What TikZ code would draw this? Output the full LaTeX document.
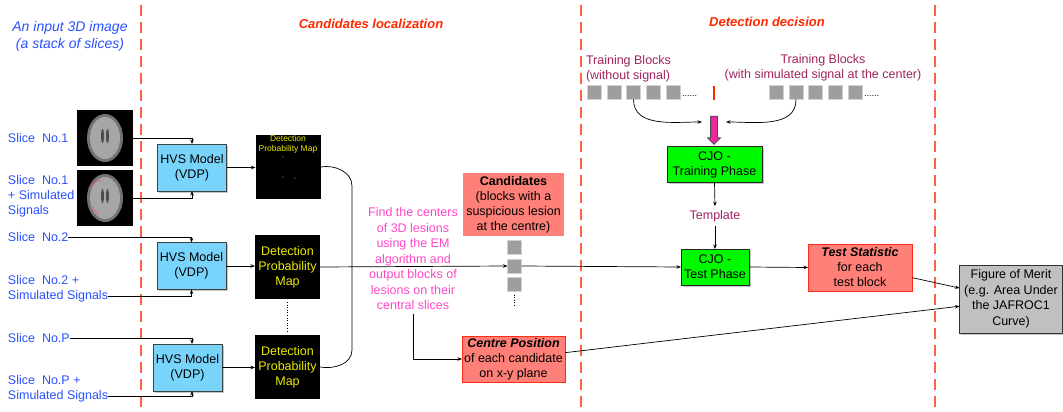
\documentclass[tikz,border=0pt]{standalone}
\usepackage{fontspec}
\setmainfont{Liberation Sans}
\usetikzlibrary{shapes.arrows,shadows,arrows.meta}
\definecolor{slicecol}{RGB}{40,80,255}
\definecolor{titlecol}{RGB}{255,40,0}
\definecolor{dividercol}{RGB}{255,95,70}
\definecolor{hvsfill}{RGB}{120,212,250}
\definecolor{mapyellow}{RGB}{235,235,0}
\definecolor{findpink}{RGB}{255,70,200}
\definecolor{traincol}{RGB}{160,35,95}
\definecolor{salmon}{RGB}{255,128,120}
\definecolor{boxred}{RGB}{255,45,20}
\definecolor{cjogreen}{RGB}{0,250,0}
\definecolor{meritcol}{RGB}{192,192,192}
\newcommand{\texthvs}{HVS Model\\(VDP)}
\newcommand{\textdpm}{Detection\\Probability\\Map}
\newcommand{\textsim}{Simulated Signals}

\begin{document}
\begin{tikzpicture}[x=1pt,y=-1pt,
    >={Stealth[length=4.5pt,width=3.5pt]}, line width=0.7pt,
    font=\fontsize{12.5}{15}\selectfont,
    any/.style={inner sep=0pt,outer sep=0pt,align=center},
    shade/.style={drop shadow={shadow xshift=1.5pt,shadow yshift=-1.5pt,fill=black!45}},
    divider/.style={draw=dividercol,line width=1.6pt,dash pattern=on 11pt off 6pt},
    titletext/.style={any,font=\fontsize{13}{17}\selectfont\bfseries\itshape,text=titlecol},
    slicetext/.style={any,align=left,anchor=west,text=slicecol},
    brain/.style={any,fill=black,minimum size=56pt},
    hvs/.style={any,draw=black!75,line width=1pt,fill=hvsfill,minimum width=69pt,minimum height=47pt,shade},
    dpm/.style={any,fill=black,text=mapyellow,minimum width=65pt,minimum height=64pt},
    blk/.style={any,fill=black!38,draw=black!18,line width=1pt,minimum size=14pt},
    cand/.style={any,fill=salmon},
    box/.style={any,fill=salmon,draw=boxred,line width=0.9pt},
    cjo/.style={any,draw=black!85,line width=1pt,fill=cjogreen,shade},
    traintext/.style={any,text=traincol}
]
\useasboundingbox (0,0) rectangle (1063,412);

\draw[divider] (141,5) -- (141,408);
\draw[divider] (581,5) -- (581,408);
\draw[divider] (935,5) -- (935,408);

\node[any,text=slicecol,font=\fontsize{14}{17}\selectfont\itshape] (input) at (70,36) {An input 3D image\\(a stack of slices)};
\node[titletext] (locate) at (371,24) {Candidates localization};
\node[titletext] (decide) at (767,22) {Detection decision};

% slices
\node[brain] (img1) at (105,138) {};
\node[brain] (img2) at (105,198) {};
\foreach \b in {img1,img2} {
  \fill[black!55] (\b) ellipse (18 and 24);
  \fill[black!35] (\b) ellipse (15 and 21);
  \fill[black!70] ([xshift=-2.5pt,yshift=2pt]\b.center) ellipse (1.5 and 7);
  \fill[black!70] ([xshift=2.5pt,yshift=2pt]\b.center) ellipse (1.5 and 7);
}
\draw[red!70,line width=0.5pt] ([xshift=-14pt,yshift=10pt]img2.center) to[bend left=30] ([xshift=-4pt,yshift=18pt]img2.center);
\draw[red!70,line width=0.5pt] ([xshift=-12pt,yshift=-8pt]img2.center) to[bend right=30] ([xshift=-6pt,yshift=-16pt]img2.center);

\node[slicetext] (s1) at (8,138) {Slice\ \ No.1};
\node[slicetext] (s1p) at (8,196) {Slice\ \ No.1\\+ Simulated\\Signals};
\node[slicetext] (s2) at (8,237) {Slice\ \ No.2};
\node[slicetext] (s2p) at (8,288.5) {Slice\ \ No.2 +\\\textsim};
\node[slicetext] (sP) at (8,338) {Slice\ \ No.P};
\node[slicetext] (sPp) at (8,389) {Slice\ \ No.P +\\\textsim};

\node[hvs] (hvs1) at (192,167.5) {\texthvs};
\node[hvs] (hvs2) at (191.5,266) {\texthvs};
\node[hvs] (hvs3) at (187.5,367.5) {\texthvs};

\draw[->] (img1.east) -| (hvs1.north);
\draw[->] (img2.east) -| (hvs1.south);
\draw[->] (s2.east) -| (hvs2.north);
\draw[->] ([yshift=-7.5pt]s2p.east) -| (hvs2.south);
\draw[->] (sP.east) -| ([xshift=4.5pt]hvs3.north);
\draw[->] ([yshift=-7.5pt]sPp.east) -| ([xshift=4.5pt]hvs3.south);

% detection probability maps
\node[dpm] (dpm1) at (288,167) {};
\node[any,text=mapyellow,font=\fontsize{8.5}{10}\selectfont] (dpm1txt) at (288,144.5) {Detection\\Probability Map};
\fill[black!45] (283,157) circle (0.7) (283,177) circle (0.7) (295,178) circle (0.7);
\node[dpm] (dpm2) at (287.5,267) {\textdpm};
\node[dpm] (dpm3) at (287.5,367) {\textdpm};
\draw[dotted,line width=0.6pt] ([yshift=-3pt]dpm2.south) -- ([yshift=3pt]dpm3.north);

\draw[->] (hvs1.east) -- (hvs1.east -| dpm1.west);
\draw[->] (hvs2.east) -- (hvs2.east -| dpm2.west);
\draw[->] (hvs3.east) -- (hvs3.east -| dpm3.west);

\coordinate (brtop) at (352,186);
\coordinate (brbot) at (352,350);
\draw (dpm1.east) to[out=10,in=90] (brtop) -- (brbot) to[out=-90,in=-10] (dpm3.east);

% candidates
\node[cand,minimum width=101pt,minimum height=63pt] (cands) at (513.5,204.5) {\textbf{Candidates}\\(blocks with a\\suspicious lesion\\at the centre)};
\foreach \y [count=\i] in {247.5,266,284.5} \node[blk] (cb\i) at (514.5,\y) {};
\draw[dotted,line width=0.6pt] ([yshift=-3pt]cb3.south) -- ([yshift=-15pt]cb3.south);

\draw[->] (dpm2.east) -- (cb2.west);
\node[any,text=findpink,font=\fontsize{12.5}{15.5}\selectfont] (find) at (413,259) {Find the centers\\of 3D lesions\\using the EM\\algorithm and\\output blocks of\\lesions on their\\central slices};

\node[box,minimum width=103pt,minimum height=46pt] (centre) at (513.5,359) {\textbf{\textit{Centre Position}}\\of each candidate\\on x-y plane};
\draw[->] ([yshift=-4pt]find.south) |- (centre.west);

% detection decision
\node[traintext,align=left,anchor=west] (nosiglbl) at (586,69) {Training Blocks\\(without signal)};
\node[traintext] (siglbl) at (823,68) {Training Blocks\\(with simulated signal at the center)};
\foreach \x [count=\i] in {594.5,614,633.5,653,673} \node[blk] (nosig\i) at (\x,92.5) {};
\foreach \x [count=\i] in {776,796,815.5,835,855} \node[blk] (sig\i) at (\x,92.5) {};
\node[any,anchor=south west,font=\small] (nosigdots) at ([xshift=2pt,yshift=3pt]nosig5.south east) {......};
\node[any,anchor=south west,font=\small] (sigdots) at ([xshift=2pt,yshift=3pt]sig5.south east) {......};
\draw[titlecol,line width=1.2pt] (714,86) -- (714,100);

\coordinate (merge) at (714,122);
\draw[->] (nosig3.south) to[out=-90,in=180] ([xshift=-12pt]merge);
\draw[->] (sig2.south) to[out=-90,in=0] ([xshift=12pt]merge);
\node[single arrow,draw=black!70,line width=0.8pt,fill=magenta!85,shape border rotate=270,
      minimum height=28pt,inner sep=3pt,single arrow head extend=3pt] (push) at (714,128.5) {};

\node[cjo,minimum width=95pt,minimum height=36pt] (train) at (714.5,164.5) {CJO -\\Training Phase};
\node[traintext,inner sep=4pt] (tmpl) at (715,216) {Template};
\node[cjo,minimum width=68pt,minimum height=36pt] (test) at (715,267) {CJO -\\Test Phase};
\draw[->] (train.south) -- (tmpl.north);
\draw[->] (tmpl.south) -- (test.north);
\draw[->] (cb2.east) -- (test.west);

\node[box,minimum width=104pt,minimum height=47pt] (stat) at (860,267.5) {\textbf{\textit{Test Statistic}}\\for each\\test block};
\draw[->] (test.east) -- (stat.west);

\node[any,draw=black!80,line width=1pt,fill=meritcol,shade,minimum width=103pt,minimum height=68pt,font=\fontsize{12.5}{15.5}\selectfont] (fom) at (1011,299) {Figure of Merit\\(e.g. Area Under\\the JAFROC1\\Curve)};
\draw[->] (stat.-11) -- (fom.168);
\draw[->] (centre.7) -- (fom.188);
\end{tikzpicture}
\end{document}
